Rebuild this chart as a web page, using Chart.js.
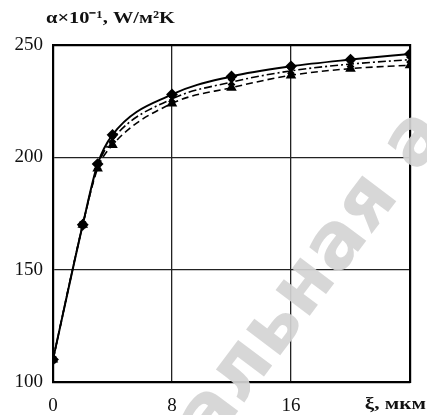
<!DOCTYPE html>
<html>
<head>
<meta charset="utf-8">
<script src="https://cdn.jsdelivr.net/npm/chart.js@4.4.1/dist/chart.umd.min.js"></script>
<style>
  html, body { margin: 0; padding: 0; background: #fff; }
  #wrap { width: 427px; height: 415px; position: relative; }
  canvas { filter: blur(0.4px); }
</style>
</head>
<body>
<div id="wrap"><canvas id="c" width="427" height="415"></canvas></div>
<script>
// Film thickness ξ (µm) and heat transfer coefficient α×10⁻¹ (W/m²K)
const xi = [0, 2, 3, 4, 8, 12, 16, 20, 24];
const alphaA = [110, 170, 197, 210, 228, 236, 240.5, 243.5, 246];
const alphaB = [110, 170, 196, 208, 226, 233.5, 238.5, 241.5, 243.5];
const alphaC = [110, 170, 195, 205.5, 224, 231, 236.5, 239.5, 241];
const xTicks = [0, 8, 16];
const yTicks = [100, 150, 200, 250];

const yTitle = 'α×10⁻¹, W/м²K';
const xTitle = 'ξ, мкм';
const stamp = 'альная а';

const pts = arr => xi.map((x, i) => ({ x: x, y: arr[i] }));

const titles = {
  id: 'titles',
  afterDraw(chart) {
    const { ctx, chartArea } = chart;
    ctx.save();
    ctx.fillStyle = '#111';
    ctx.font = 'bold 17px "Liberation Serif"';
    ctx.textBaseline = 'middle';
    ctx.textAlign = 'left';
    ctx.save();
    ctx.translate(chartArea.left - 7, chartArea.top - 26);
    ctx.scale(1.2, 1);
    ctx.fillText(yTitle, 0, 0);
    ctx.restore();
    ctx.save();
    ctx.translate(426, chartArea.bottom + 23);
    ctx.scale(1.25, 1);
    ctx.textAlign = 'right';
    ctx.fillText(xTitle, 0, 0);
    ctx.restore();
    // watermark letters
    ctx.translate(212, 412);
    ctx.rotate(-53 * Math.PI / 180);
    ctx.fillStyle = 'rgba(212,212,212,0.92)';
    ctx.font = 'bold 78px "DejaVu Sans"';
    ctx.textAlign = 'left';
    ctx.textBaseline = 'middle';
    ctx.fillText(stamp, -30, 0);
    ctx.restore();
  }
};

new Chart(document.getElementById('c'), {
  type: 'line',
  data: {
    datasets: [
      { data: pts(alphaA), borderColor: '#000', backgroundColor: '#000', borderWidth: 2,
        pointStyle: 'rectRot', pointRadius: 4.5, cubicInterpolationMode: 'monotone' },
      { data: pts(alphaB), borderColor: '#000', backgroundColor: '#000', borderWidth: 1.6,
        borderDash: [8, 3, 2, 3], pointStyle: 'crossRot', pointRadius: 4.5, pointBorderWidth: 2,
        cubicInterpolationMode: 'monotone' },
      { data: pts(alphaC), borderColor: '#000', backgroundColor: '#000', borderWidth: 1.6,
        borderDash: [7, 4], pointStyle: 'triangle', pointRadius: 4.5,
        cubicInterpolationMode: 'monotone' }
    ]
  },
  options: {
    responsive: false,
    animation: false,
    layout: { padding: { left: 0, right: 17, top: 45, bottom: 0 } },
    plugins: { legend: { display: false }, tooltip: { enabled: false } },
    scales: {
      x: {
        type: 'linear', min: 0, max: 24,
        afterFit(s) { s.height = 33; },
        afterBuildTicks(s) { s.ticks = xTicks.map(v => ({ value: v })); },
        grid: { color: '#222', lineWidth: 1.3, drawTicks: false },
        border: { color: '#000', width: 2.2 },
        ticks: { color: '#111', padding: 13, font: { family: '"Liberation Serif"', size: 19 } }
      },
      y: {
        min: 100, max: 250,
        afterFit(s) { s.width = 53; },
        afterBuildTicks(s) { s.ticks = yTicks.map(v => ({ value: v })); },
        grid: { color: '#222', lineWidth: 1.3, drawTicks: false },
        border: { color: '#000', width: 2.2 },
        ticks: { color: '#111', padding: 10, font: { family: '"Liberation Serif"', size: 19 } }
      },
      x2: {
        type: 'linear', position: 'top', min: 0, max: 24, display: true,
        afterFit(s) { s.height = 0; },
        grid: { display: false }, ticks: { display: false },
        border: { color: '#000', width: 2.2 }
      },
      y2: {
        position: 'right', min: 100, max: 250, display: true,
        afterFit(s) { s.width = 0; },
        grid: { display: false }, ticks: { display: false },
        border: { color: '#000', width: 2.2 }
      }
    }
  },
  plugins: [titles]
});
</script>
</body>
</html>
